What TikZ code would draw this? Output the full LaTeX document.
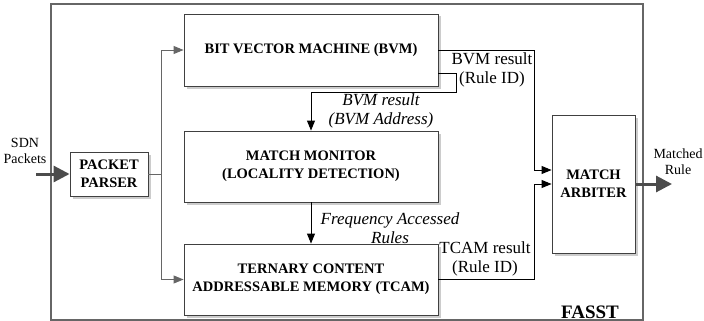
\documentclass[tikz,border=0pt]{standalone}
\usepackage{fontspec}
\setmainfont{Liberation Serif}
\usetikzlibrary{arrows.meta,shadows}

\begin{document}
\begin{tikzpicture}[x=1pt,y=-1pt,
        blk/.style={draw=black!75,fill=white,line width=0.9pt,align=center,inner sep=0pt,
          font=\fontsize{14.5}{18}\selectfont\bfseries,
          drop shadow={shadow xshift=2.5pt,shadow yshift=-2.5pt,fill=black!20,opacity=1}},
        lbl/.style={align=center,inner sep=0pt,font=\fontsize{17}{19}\selectfont},
        ilbl/.style={lbl,font=\fontsize{17}{19}\selectfont\itshape},
        slbl/.style={align=center,inner sep=0pt,font=\fontsize{14}{16}\selectfont},
        wire/.style={line width=0.9pt,-{Triangle[length=10pt,width=8pt]}},
        pwire/.style={wire,draw=black!60},
        fat/.style={line width=3pt,draw=black!70,-{Triangle[length=16pt,width=16pt]}}]
        \useasboundingbox (0,0) rectangle (704,321);
        \draw [black!60,line width=1.2pt] (51,4) rectangle (643,320);
        \node [blk,minimum width=78pt,minimum height=44pt] (parser) at (109,174) {PACKET\\PARSER};
        \node [blk,minimum width=254pt,minimum height=72pt] (bvm) at (311,50) {BIT VECTOR MACHINE (BVM)};
        \node [blk,minimum width=254pt,minimum height=71pt] (monitor) at (311,166.5) {MATCH MONITOR\\(LOCALITY DETECTION)};
        \node [blk,minimum width=254pt,minimum height=71pt] (tcam) at (311,279.5) {TERNARY CONTENT\\ADDRESSABLE MEMORY (TCAM)};
        \node [blk,minimum width=83pt,minimum height=138pt] (arbiter) at (593.5,184) {MATCH\\ARBITER};
        \coordinate (sdn) at (36,174);
        \coordinate (fork) at (161,174);
        \coordinate (tap) at (bvm.east |- 0,73);
        \coordinate (jog) at (456,92);
        \coordinate (r1) at (534,170);
        \coordinate (r2) at (534,184);
        \coordinate (out) at (672,184);
        \draw [fat] (sdn) -- (parser);
        \draw [pwire,-] (parser) -- (fork);
        \draw [pwire] (fork) |- (bvm);
        \draw [pwire] (fork) |- (tcam);
        \draw [wire] (bvm.east) -| (r1) -- (r1 -| arbiter.west);
        \draw [wire] (tcam.east) -| (r2) -- (arbiter.west);
        \draw [wire] (tap) -| (jog) -| (monitor.north);
        \draw [wire] (monitor) -- (tcam);
        \draw [fat] (arbiter) -- (out);
        \node [slbl] (sdnlbl) at (25,151) {SDN\\Packets};
        \node [slbl] (matched) at (678,162) {Matched\\Rule};
        \node [lbl] (bvmres) at (492,70) {BVM result\\(Rule ID)};
        \node [ilbl] (bvmaddr) at (381,111) {BVM result\\(BVM Address)};
        \node [ilbl] (freq) at (390,228) {Frequency Accessed\\Rules};
        \node [lbl] (tcamres) at (485,259) {TCAM result\\(Rule ID)};
        \node [inner sep=0pt,font=\fontsize{19}{22}\selectfont\bfseries] (fasst) at (590,312) {FASST};
\end{tikzpicture}
\end{document}
